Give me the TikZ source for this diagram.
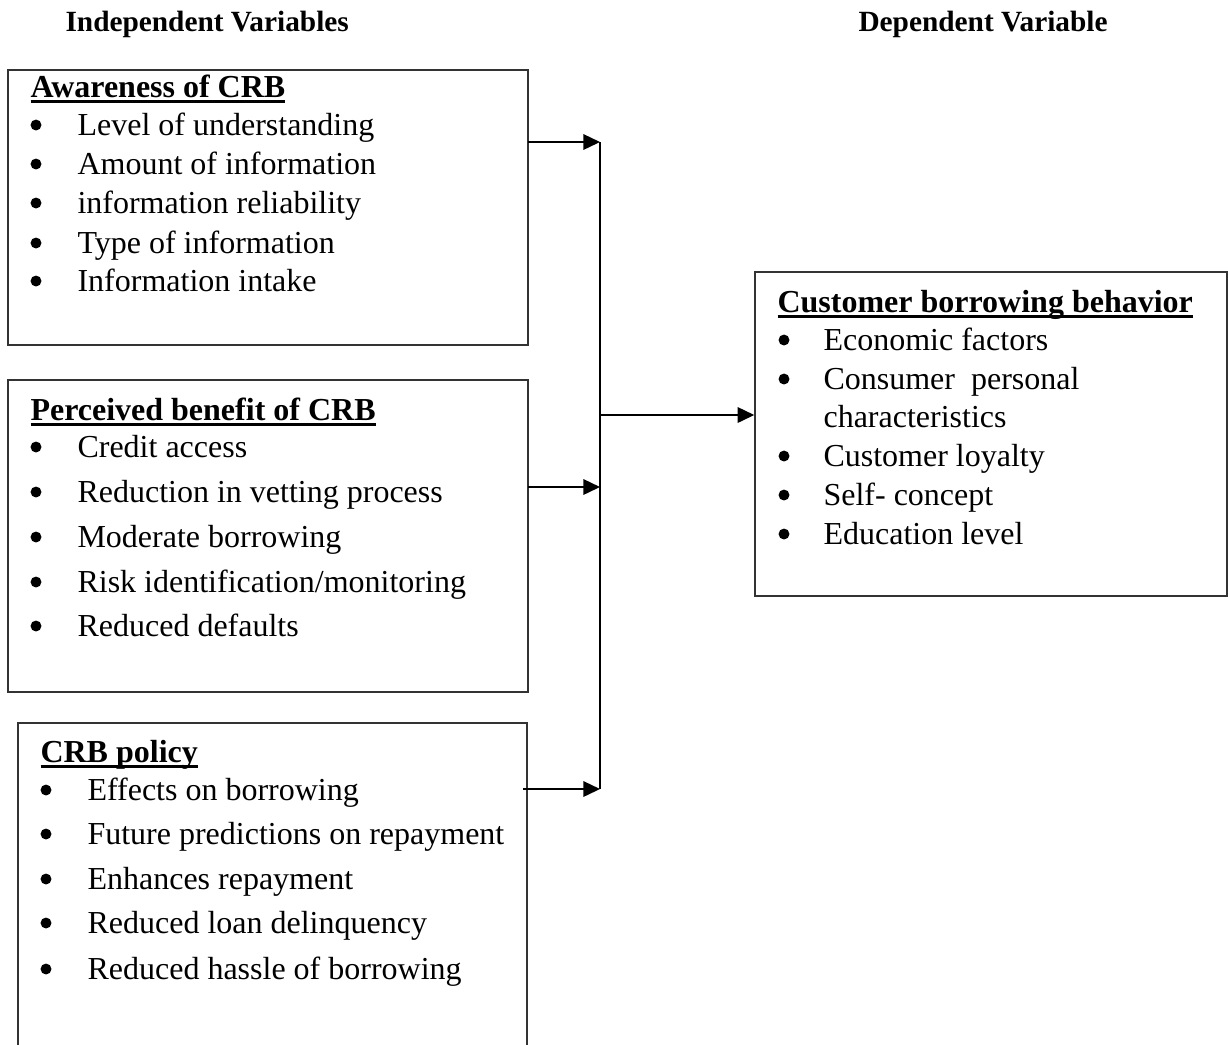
\documentclass[tikz,border=0pt]{standalone}
\usepackage{fontspec}
\setmainfont{Liberation Serif}
\usetikzlibrary{arrows.meta,fit}
\newcommand\myul[1]{\setbox0\hbox{#1}\rlap{\raisebox{-2.25pt}{\rule{\wd0}{1pt}}}\box0}
\tikzset{
  txt/.style={anchor=base west, inner sep=0pt, font=\fontsize{12}{14}\selectfont},
  ttl/.style={anchor=base west, inner sep=0pt, font=\fontsize{12}{14}\selectfont\bfseries},
  hdr/.style={anchor=base west, inner sep=0pt, font=\fontsize{11}{13}\selectfont\bfseries},
  bul/.style={circle, fill=black, inner sep=0pt, minimum size=4.1pt},
  boxline/.style={draw=black!80, line width=0.55pt},
  conn/.style={draw=black, line width=0.6pt},
  arr/.style={conn, -{Triangle[length=6.2pt,width=5.8pt]}}
}
\begin{document}
\begin{tikzpicture}[x=0.375pt,y=-0.375pt]
\clip (0,0) rectangle (1228,1044);
\fill[white] (0,0) rectangle (1228,1044);

% headers
\node[hdr] (hind) at (65,31) {Independent Variables};
\node[hdr] (hdep) at (858,31) {Dependent Variable};

% box corners
\coordinate (b1nw) at (8,70);   \coordinate (b1se) at (528,345);
\coordinate (b2nw) at (8,380);  \coordinate (b2se) at (528,692);
\coordinate (b4nw) at (755,272); \coordinate (b4se) at (1227,596);
\node[boxline, fit=(b1nw)(b1se), inner sep=0pt] (b1) {};
\node[boxline, fit=(b2nw)(b2se), inner sep=0pt] (b2) {};
\node[boxline, fit=(b4nw)(b4se), inner sep=0pt] (b4) {};
% box 3 (runs off the bottom)
\coordinate (b3bl) at (18,1060); \coordinate (b3tl) at (18,723);
\coordinate (b3tr) at (527,723); \coordinate (b3br) at (527,1060);
\draw[boxline] (b3bl) -- (b3tl) -- (b3tr) -- (b3br);

% box 1
\node[ttl] (t1) at (30,97) {\myul{Awareness of CRB}};
\foreach \y/\t [count=\i] in {135/{Level of understanding},174/{Amount of information},213/{information reliability},253/{Type of information},291/{Information intake}}{
  \node[bul] (b1b\i) at (36,\y-10) {};
  \node[txt] (b1t\i) at (77,\y) {\t};
}
% box 2
\node[ttl] (t2) at (30,420) {\myul{Perceived benefit of CRB}};
\foreach \y/\t [count=\i] in {457/{Credit access},502/{Reduction in vetting process},547/{Moderate borrowing},592/{Risk identification/monitoring},636/{Reduced defaults}}{
  \node[bul] (b2b\i) at (36,\y-10) {};
  \node[txt] (b2t\i) at (77,\y) {\t};
}
% box 3
\node[ttl] (t3) at (40,762) {\myul{CRB policy}};
\foreach \y/\t [count=\i] in {800/{Effects on borrowing},844/{Future predictions on repayment},889/{Enhances repayment},933/{Reduced loan delinquency},979/{Reduced hassle of borrowing}}{
  \node[bul] (b3b\i) at (46,\y-10) {};
  \node[txt] (b3t\i) at (87,\y) {\t};
}
% box 4
\node[ttl] (t4) at (777,312) {\myul{Customer borrowing behavior}};
\foreach \y/\t [count=\i] in {350/{Economic factors},389/{Consumer\ \ personal},466/{Customer loyalty},505/{Self- concept},544/{Education level}}{
  \node[bul] (b4b\i) at (784,\y-10) {};
  \node[txt] (b4t\i) at (823,\y) {\t};
}
\node[txt] (b4t2b) at (823,427) {characteristics};

% connectors
\coordinate (s1) at (528,142); \coordinate (j1) at (600,142);
\coordinate (s2) at (528,487); \coordinate (j2) at (600,487);
\coordinate (s3) at (523,789); \coordinate (j3) at (600,789);
\coordinate (jm) at (600,415);
\draw[conn] (j1) -- (j3);
\draw[arr] (s1) -- (j1);
\draw[arr] (s2) -- (j2);
\draw[arr] (s3) -- (j3);
\draw[arr] (jm) -- (b4.west |- jm);
\end{tikzpicture}
\end{document}
